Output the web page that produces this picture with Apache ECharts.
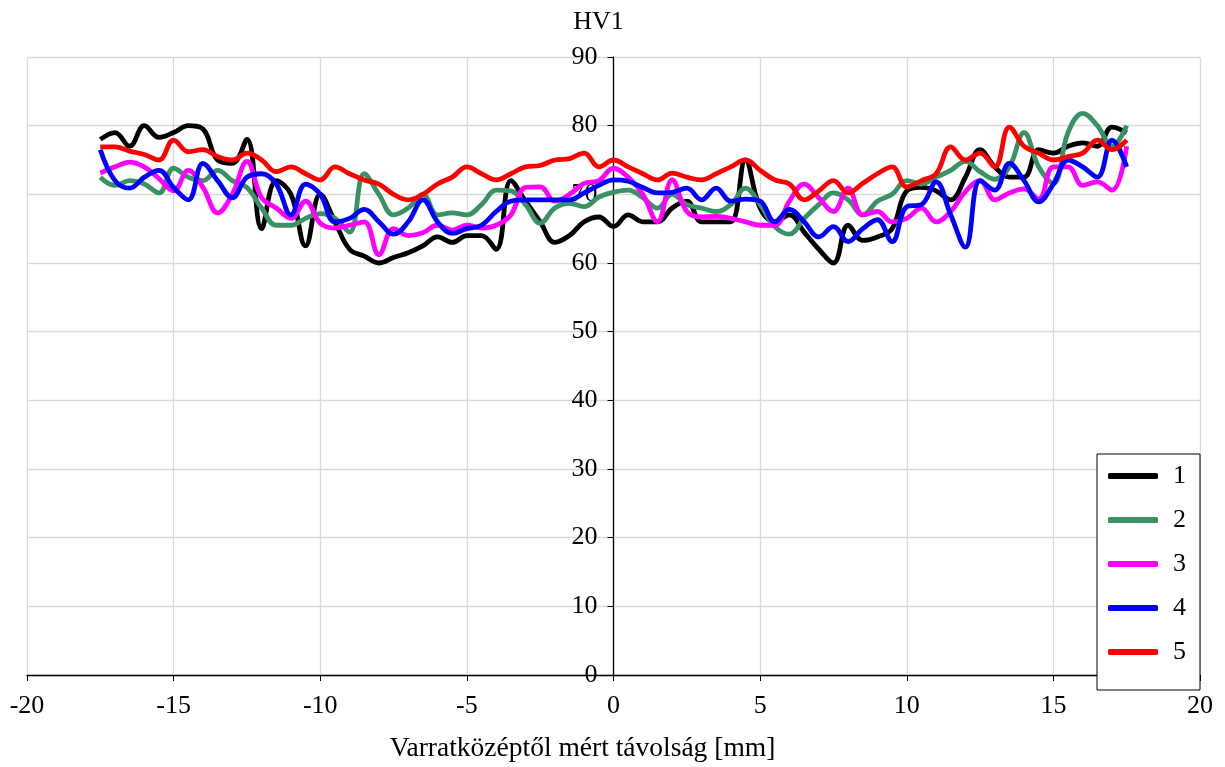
<!DOCTYPE html>
<html>
<head>
<meta charset="utf-8">
<script src="https://cdn.jsdelivr.net/npm/echarts@6/dist/echarts.min.js"></script>
<style>html,body{margin:0;padding:0;background:#fff}#c{width:1225px;height:767px}</style>
</head>
<body>
<div id="c"></div>
<script>
const xPos = [-17.5,-17,-16.5,-16,-15.5,-15,-14.5,-14,-13.5,-13,-12.5,-12,-11.5,-11,-10.5,-10,-9.5,-9,-8.5,-8,-7.5,-7,-6.5,-6,-5.5,-5,-4.5,-4,-3.5,-3,-2.5,-2,-1.5,-1,-0.5,0,0.5,1,1.5,2,2.5,3,3.5,4,4.5,5,5.5,6,6.5,7,7.5,8,8.5,9,9.5,10,10.5,11,11.5,12,12.5,13,13.5,14,14.5,15,15.5,16,16.5,17,17.5];

const s1 = [78,79,77,80,78.3,79,80,79.5,75,74.5,78,65,72,70,62.5,70,66,62,61,60,60.8,61.5,62.5,63.8,63,64,64,62,72,69,66,63,64,66,66.7,65.3,67,66,66,68,69,66,66,66,75,68,66,67,64.5,62,60,65.5,63.3,63.8,65,70.5,71,70.5,69.2,72.5,76.5,74,72.5,72.5,76.5,76,77,77.5,77,79.8,79];
const s2 = [72.5,71.3,72,71.5,70.2,73.8,72.5,72,73.5,72,71,68,65.5,65.5,66.5,67.2,66.5,64.5,73,70,67,68,70,67,67.3,67,68.5,70.6,70.5,68.5,65.8,68,68.7,68.2,69.6,70.3,70.6,69.5,68,70,68.5,68,67.5,68.5,70.9,68.5,65.3,64.2,66.5,68.5,70.2,69.2,67,69,70,72,71.5,72.5,73.5,74.8,73.3,72.2,74,79,74,71.6,79,81.8,80,77,80];
const s3 = [73.1,74,74.7,74,72.3,70.5,73.5,71,67.3,70,74.8,69.5,68,66.5,69,65.8,65.1,65.5,66,61.2,65,64,64.4,65.5,64.8,65.5,65.1,65.5,67,71,71.1,69,70,71.6,72,73.8,72.5,70,66,72.1,67.5,66.7,66.8,66.5,66,65.5,65.5,69,71.5,69.5,67.5,70.9,67,67.5,66,66.5,68,66,67.5,70.4,72,69.2,70.2,70.8,69.3,74,74,71.3,71.8,70.6,77];
const s4 = [76.5,72,70.9,72.5,73.5,71,69.2,74.5,72,69.5,72.5,73,71.5,67,71.5,70,66,66.5,67.8,66,64.2,66,69.2,66,64.3,65,65.5,67.5,69,69.2,69.2,69.2,69.2,70.2,71.3,72.1,71.9,71,70.2,70.3,70.9,69.2,70.9,69,69.3,69,66,67.8,66,63.8,65.3,63.1,65,66.3,63.1,68.2,68.5,71.8,67,62.3,72,70.6,74.5,72,68.9,71.5,75,74,72.5,77.9,74];
const s5 = [76.9,76.9,76.3,75.8,75,77.9,76.2,76.5,75.5,75,76,75,73.3,74,73,72.1,74,73,72.1,71.5,70,69.2,70,71.5,72.5,74,73,72.1,73,74,74.2,75,75.2,76,74,75,74,73,72.1,73.1,72.5,72.1,73,74,75,73.5,72.1,71.5,69.2,70.5,72,70.2,71.6,73,74,71.1,72,73,76.9,75,76,74,79.8,77,76,75,75.5,76,77.9,76.5,77.9];

const seriesNames = ['1','2','3','4','5'];
const seriesColors = ['#000000','#3a9163','#ff00ff','#0000ff','#ff0000'];
const seriesData = [s1,s2,s3,s4,s5];

const xTicks = [-20,-15,-10,-5,0,5,10,15,20];
const yTicks = [0,10,20,30,40,50,60,70,80,90];

const W = 1225, GL = 27, GR = 25;
const FS = 26;
const font = "'Liberation Serif', 'Times New Roman', serif";
const plotW = W - GL - GR;
const xMin = xTicks[0], xMax = xTicks[xTicks.length-1];
const yAxisOffset = -plotW * (0 - xMin) / (xMax - xMin);

const chart = echarts.init(document.getElementById('c'), null, {renderer: 'canvas'});
chart.setOption({
  animation: false,
  backgroundColor: '#fff',
  textStyle: {fontFamily: font, color: '#000'},
  grid: {left: GL, right: GR, top: 57, bottom: 92, containLabel: false, outerBoundsMode: 'none'},
  xAxis: {
    type: 'value', min: xMin, max: xMax, interval: 5,
    name: 'Varratközéptől mért távolság [mm]', nameLocation: 'middle', nameGap: 60,
    nameTextStyle: {fontFamily: font, fontSize: 27.5, color: '#000', padding: [0, 62, 0, 0]},
    axisLine: {onZero: false, lineStyle: {color: '#000', width: 1.3}},
    axisTick: {show: true, length: 6, lineStyle: {color: '#000'}},
    axisLabel: {fontFamily: font, fontSize: FS, color: '#000', margin: 18},
    splitLine: {show: true, lineStyle: {color: '#d9d9d9', width: 1.3}}
  },
  yAxis: {
    type: 'value', min: yTicks[0], max: yTicks[yTicks.length-1], interval: 10,
    position: 'left', offset: yAxisOffset,
    name: 'HV1', nameLocation: 'end', nameGap: 22,
    nameTextStyle: {fontFamily: font, fontSize: FS, color: '#000', padding: [0, 30, 0, 0]},
    axisLine: {show: true, onZero: false, lineStyle: {color: '#000', width: 1.3}},
    axisTick: {show: true, length: 6, lineStyle: {color: '#000'}},
    axisLabel: {fontFamily: font, fontSize: FS, color: '#000', margin: 16},
    splitLine: {show: true, lineStyle: {color: '#d9d9d9', width: 1.3}}
  },
  legend: {
    orient: 'vertical', right: 25, bottom: 77,
    backgroundColor: '#fff', borderColor: '#000', borderWidth: 1,
    padding: [9, 14, 25, 11],
    icon: 'roundRect', itemWidth: 50, itemHeight: 6, itemGap: 18,
    textStyle: {fontFamily: font, fontSize: FS, color: '#000', lineHeight: 26, padding: [0, 0, 0, 10]},
    data: seriesNames
  },
  series: seriesData.map((arr, i) => ({
    name: seriesNames[i], type: 'line', smooth: 0.4, symbol: 'none',
    data: xPos.map((x, j) => [x, arr[j]]),
    lineStyle: {color: seriesColors[i], width: 4.8},
    itemStyle: {color: seriesColors[i]},
    z: 2 + i
  }))
});
</script>
</body>
</html>
